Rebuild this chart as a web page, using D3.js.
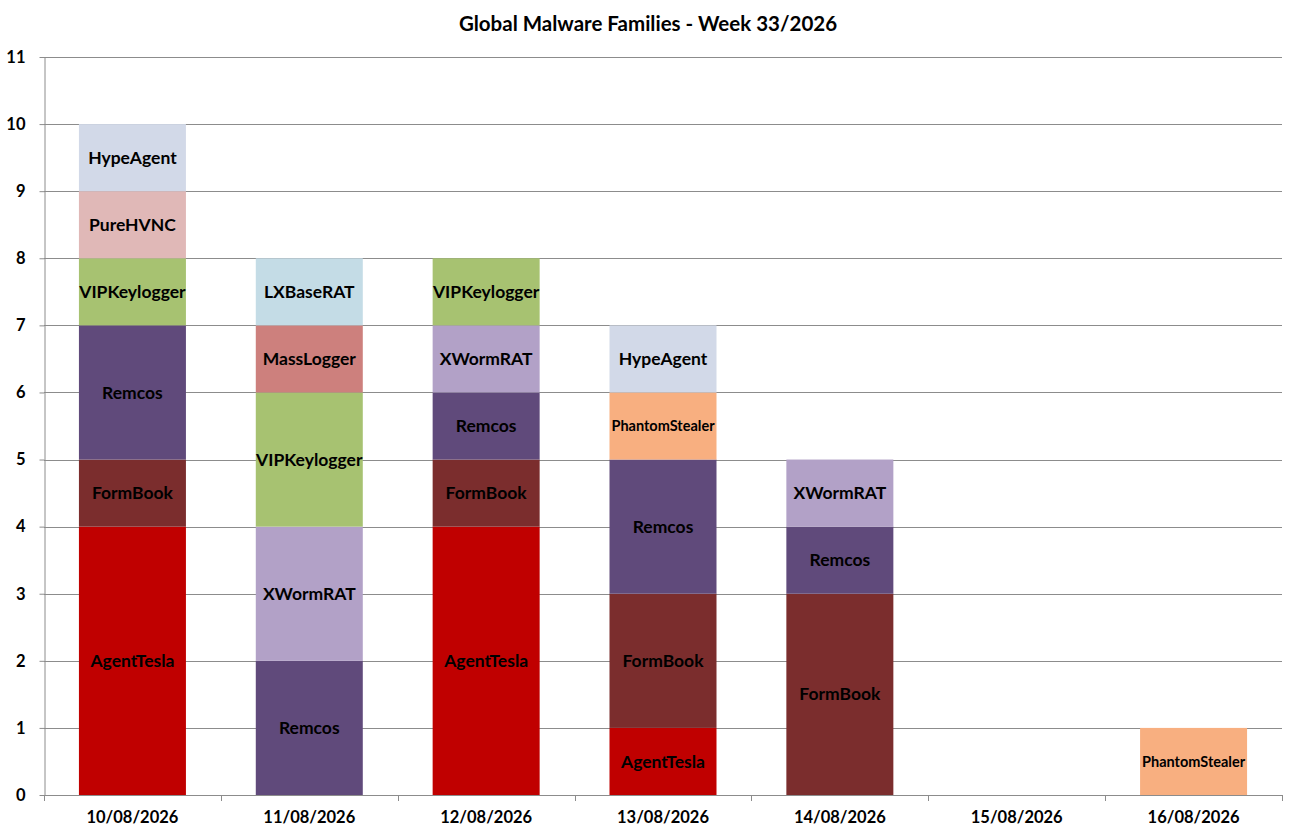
<!DOCTYPE html>
<html>
<head>
<meta charset="utf-8">
<script src="https://cdn.jsdelivr.net/npm/d3@7"></script>
<style>
  body { margin: 0; background: #fff; }
  text { font-family: Lato, "Liberation Sans", sans-serif; font-weight: bold; fill: #000; }
</style>
</head>
<body>
<div id="chart"></div>
<script>
// days of the week
var days = ["10/08/2026", "11/08/2026", "12/08/2026", "13/08/2026", "14/08/2026", "15/08/2026", "16/08/2026"];

// families in stacking order (bottom to top)
var families = ["AgentTesla", "FormBook", "Remcos", "XWormRAT", "VIPKeylogger", "MassLogger", "LXBaseRAT", "PureHVNC", "PhantomStealer", "HypeAgent"];

// count per family, one value per day
var agentTesla     = [4, 0, 4, 1, 0, 0, 0];
var formBook       = [1, 0, 1, 2, 3, 0, 0];
var remcos         = [2, 2, 1, 2, 1, 0, 0];
var xwormRat       = [0, 2, 1, 0, 1, 0, 0];
var vipKeylogger   = [1, 2, 1, 0, 0, 0, 0];
var massLogger     = [0, 1, 0, 0, 0, 0, 0];
var lxBaseRat      = [0, 1, 0, 0, 0, 0, 0];
var pureHvnc       = [1, 0, 0, 0, 0, 0, 0];
var phantomStealer = [0, 0, 0, 1, 0, 0, 1];
var hypeAgent      = [1, 0, 0, 1, 0, 0, 0];

var yTicks = [0, 1, 2, 3, 4, 5, 6, 7, 8, 9, 10, 11];

var seriesValues = [agentTesla, formBook, remcos, xwormRat, vipKeylogger, massLogger, lxBaseRat, pureHvnc, phantomStealer, hypeAgent];

(function() {
    var colors = {
        AgentTesla: "#C00000",
        FormBook: "#7B2D2D",
        Remcos: "#604A7B",
        XWormRAT: "#B2A1C7",
        VIPKeylogger: "#A7C271",
        MassLogger: "#CD807D",
        LXBaseRAT: "#C4DCE6",
        PureHVNC: "#E0B8B7",
        PhantomStealer: "#F8AF80",
        HypeAgent: "#D2D9E8"
    };

    var width = 1301, height = 840;
    var mLeft = 44, mRight = 1282, mTop = 57, mBottom = 795;

    // rows for d3.stack
    var rows = days.map(function(d, i) {
        var r = { day: d };
        families.forEach(function(f, j) { r[f] = seriesValues[j][i]; });
        return r;
    });

    var stacked = d3.stack().keys(families)(rows);

    var svg = d3.select("#chart").append("svg")
        .attr("width", width)
        .attr("height", height);

    var x = d3.scaleBand()
        .domain(days)
        .range([mLeft, mRight])
        .paddingInner(0.395)
        .paddingOuter(0.1975);

    // outer band for category boundaries
    var xCat = d3.scaleBand().domain(days).range([mLeft, mRight]);

    var y = d3.scaleLinear()
        .domain([0, 11])
        .range([mBottom, mTop]);

    // gridlines
    svg.append("g")
        .selectAll("line")
        .data(yTicks.filter(function(t) { return t > 0; }))
        .join("line")
        .attr("x1", mLeft)
        .attr("x2", mRight)
        .attr("y1", function(d) { return Math.round(y(d)) + 0.5; })
        .attr("y2", function(d) { return Math.round(y(d)) + 0.5; })
        .attr("stroke", "#8c8c8c")
        .attr("stroke-width", 1);

    // bars
    var layers = svg.append("g")
        .selectAll("g")
        .data(stacked)
        .join("g")
        .attr("fill", function(d) { return colors[d.key]; });

    layers.selectAll("rect")
        .data(function(d) { return d.map(function(p) { p.key = d.key; return p; }); })
        .join("rect")
        .attr("x", function(d) { return x(d.data.day); })
        .attr("y", function(d) { return y(d[1]); })
        .attr("height", function(d) { return y(d[0]) - y(d[1]); })
        .attr("width", x.bandwidth());

    // segment labels
    layers.selectAll("text")
        .data(function(d) { return d.filter(function(p) { return p[1] - p[0] > 0; }); })
        .join("text")
        .attr("x", function(d) { return x(d.data.day) + x.bandwidth() / 2; })
        .attr("y", function(d) { return (y(d[0]) + y(d[1])) / 2; })
        .attr("dy", "0.35em")
        .attr("text-anchor", "middle")
        .attr("font-size", function(d) { return d.key === "PhantomStealer" ? "14.5px" : "17.5px"; })
        .text(function(d) { return d.key; });

    // y axis
    var yAxis = svg.append("g")
        .attr("transform", "translate(" + (mLeft + 0.5) + ",0)")
        .call(d3.axisLeft(y).tickValues(yTicks).tickSize(5).tickPadding(14).tickSizeOuter(0));
    yAxis.selectAll("line").attr("stroke", "#8c8c8c");
    yAxis.select(".domain").attr("stroke", "#8c8c8c");
    yAxis.selectAll("text").attr("font-size", "16.5px").attr("font-family", "Lato, sans-serif");

    // x axis
    var xAxis = svg.append("g")
        .attr("transform", "translate(0," + (mBottom + 0.5) + ")")
        .call(d3.axisBottom(xCat).tickSize(0).tickPadding(16).tickSizeOuter(0));
    xAxis.select(".domain").attr("stroke", "#8c8c8c").attr("d", "M" + mLeft + ",0H" + mRight);
    xAxis.selectAll("text").attr("font-size", "16.5px").attr("font-family", "Lato, sans-serif");

    // tick marks between categories
    svg.append("g")
        .selectAll("line")
        .data(days.concat(["end"]))
        .join("line")
        .attr("x1", function(d, i) { return Math.round(mLeft + i * xCat.step()) + 0.5; })
        .attr("x2", function(d, i) { return Math.round(mLeft + i * xCat.step()) + 0.5; })
        .attr("y1", mBottom)
        .attr("y2", mBottom + 6)
        .attr("stroke", "#8c8c8c");

    // title
    svg.append("text")
        .attr("x", 648)
        .attr("y", 31)
        .attr("text-anchor", "middle")
        .attr("font-size", "20.5px")
        .text("Global Malware Families - Week 33/2026");
})();
</script>
</body>
</html>
